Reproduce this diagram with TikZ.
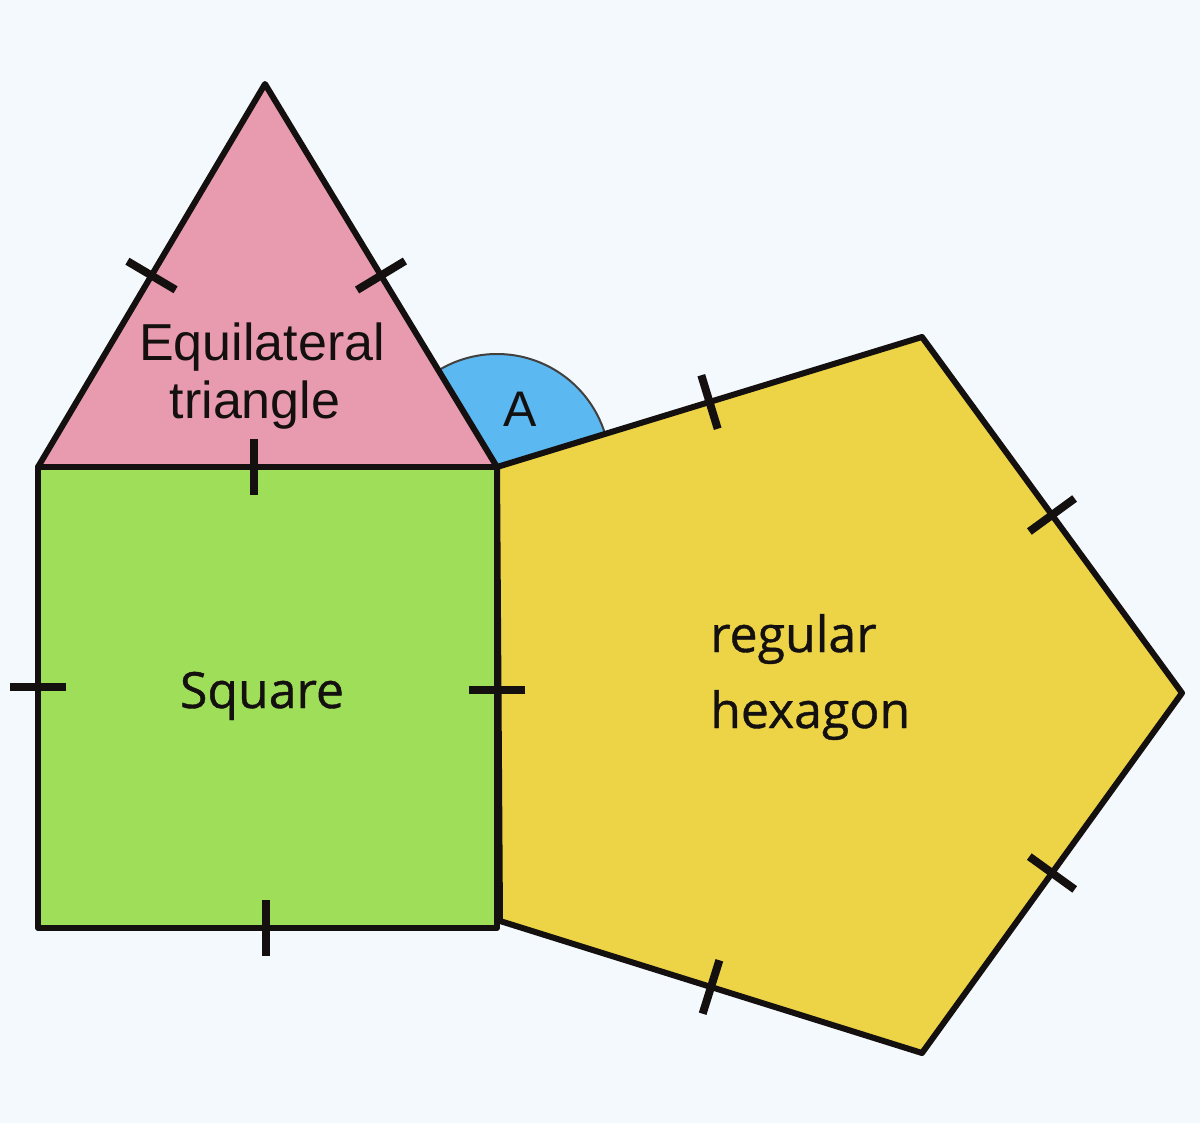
\documentclass[tikz,border=0pt]{standalone}
\usepackage{fontspec}
\setmainfont{Liberation Sans}
\newfontfamily\osans[FakeBold=0.8]{Open Sans}
\usetikzlibrary{calc}
\definecolor{bgc}{RGB}{243,249,252}
\definecolor{pinkc}{RGB}{232,155,175}
\definecolor{greenc}{RGB}{158,222,88}
\definecolor{yellowc}{RGB}{236,212,70}
\definecolor{bluec}{RGB}{92,184,240}
\definecolor{inkc}{RGB}{20,16,16}
\newcommand\edgetick[3]{\draw[tickline] ($(#1)!#3!(#2)!28pt!90:(#2)$) -- ($(#1)!#3!(#2)!28pt!-90:(#2)$);}
\begin{document}
\begin{tikzpicture}[x=1pt,y=-1pt,
  shapeline/.style={draw=inkc,line width=6pt,line join=round},
  tickline/.style={draw=inkc,line width=8pt},
  lbl/.style={inner sep=0pt,anchor=base,text=inkc}]
\useasboundingbox (0,0) rectangle (1200,1123);
\fill[bgc] (0,0) rectangle (1200,1123);
% vertices
\coordinate (TA) at (265,84);
\coordinate (TL) at (38,467);
\coordinate (TR) at (497,467);
\coordinate (SBL) at (38,928);
\coordinate (SBR) at (497,928);
\coordinate (P1) at (922,337);
\coordinate (P2) at (1182,693);
\coordinate (P3) at (922,1053);
\coordinate (P4) at (500,921);
% angle sector
\filldraw[fill=bluec,draw=inkc!80,line width=2pt] (TR) -- ++(-121:113) arc[start angle=-121,end angle=-17,radius=113] -- cycle;
% shapes
\filldraw[shapeline,fill=pinkc] (TL) -- (TA) -- (TR) -- cycle;
\filldraw[shapeline,fill=greenc] (TL) -- (TR) -- (SBR) -- (SBL) -- cycle;
\filldraw[shapeline,fill=yellowc] (TR) -- (P1) -- (P2) -- (P3) -- (P4) -- cycle;
% ticks
\edgetick{TL}{TA}{0.5}
\edgetick{TA}{TR}{0.5}
\edgetick{TL}{TR}{0.47}
\edgetick{TL}{SBL}{0.478}
\edgetick{TR}{SBR}{0.484}
\edgetick{SBL}{SBR}{0.497}
\edgetick{TR}{P1}{0.5}
\edgetick{P1}{P2}{0.5}
\edgetick{P2}{P3}{0.5}
\edgetick{P3}{P4}{0.5}
% labels
\node[lbl,font=\fontsize{52}{60}\selectfont] (eq) at (262,360) {Equilateral};
\node[lbl,font=\fontsize{52}{60}\selectfont] (tri) at (255,418) {triangle};
\node[lbl,font=\fontsize{50}{60}\selectfont] (a) at (520,426) {A};
\node[lbl,font=\osans\fontsize{50}{60}\selectfont] (sq) at (262,708) {Square};
\node[lbl,anchor=base west,font=\osans\fontsize{50}{60}\selectfont] (reg) at (710,652) {regular};
\node[lbl,anchor=base west,font=\osans\fontsize{50}{60}\selectfont] (hex) at (710,728) {hexagon};
\end{tikzpicture}
\end{document}
